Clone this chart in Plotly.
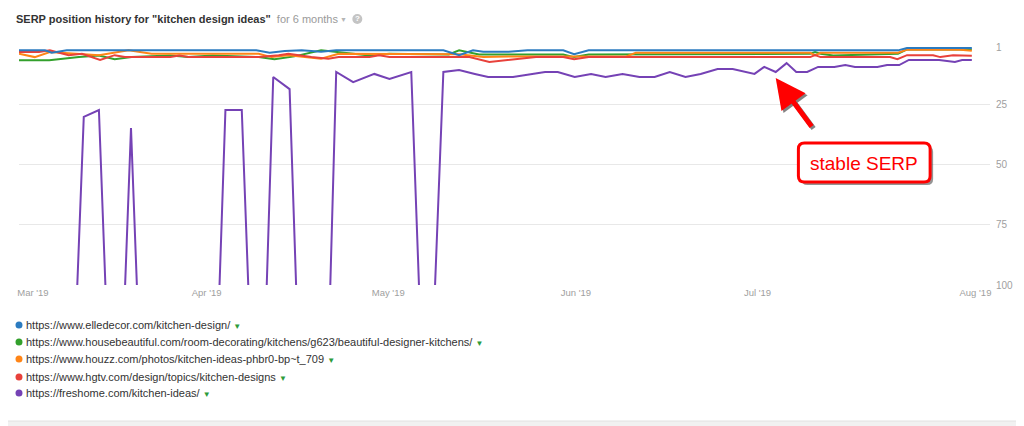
import pandas as pd
import plotly.graph_objects as go

BASE = pd.Timestamp("2019-03-01")

# ---- data (days since 1 Mar 2019, SERP position) ----
elle_days = [0, 4.3, 5.4, 7.9, 39.2, 41.4, 43.9, 46.7, 49.9, 52.4, 70.1, 72.7, 75.0, 76.7, 80.9,
             84, 89.9, 91.7, 94.1, 145.2, 146.7, 157.4]
elle_pos = [2.4, 2.4, 3.4, 2.4, 2.4, 3.4, 2.7, 2.4, 3.0, 2.4, 2.4, 4.4, 2.4, 3.0, 3.0,
            2.4, 2.4, 4.0, 2.4, 2.4, 1.4, 1.4]

hb_days = [0, 5.0, 9.9, 13.2, 15.8, 18.6, 25, 28, 32, 39.6, 42.2, 45.5, 49.9, 52.8, 56,
           57.9, 61.2, 71.0, 72.7, 76.0, 89.9, 91.7, 94.1, 130.7, 131.5, 132.4, 134.5, 145.2, 146.7, 157.4]
hb_pos = [6.5, 6.5, 5.2, 4.5, 6.1, 5.2, 4.5, 5.2, 4.5, 5.2, 6.1, 4.9, 2.4, 3.1, 3.8,
          4.5, 3.8, 4.1, 2.4, 4.1, 4.1, 5.2, 4.1, 3.8, 3.1, 3.8, 4.5, 3.8, 2.0, 2.0]

houzz_days = [0, 2.6, 5.1, 8.7, 13.2, 18.1, 21.9, 39.6, 41.7, 44.5, 49.9, 52.8, 70.6, 72.7, 76.7,
              80.9, 100.2, 101.9, 130.7, 131.5, 132.4, 145.2, 146.7, 155.5, 157.4]
houzz_pos = [3.8, 5.2, 3.1, 3.8, 4.4, 2.4, 3.8, 3.8, 5.2, 4.4, 5.9, 3.8, 3.8, 4.0, 5.2,
             5.0, 5.0, 3.4, 3.4, 4.5, 3.4, 3.4, 2.1, 2.1, 2.6]

hgtv_days = [0, 3.3, 5.1, 8.2, 10.4, 13.4, 15.8, 17.5, 25, 26.5, 28, 39.6, 42.9, 44.5, 48.3,
             51.1, 52.8, 57.9, 59.5, 61.2, 74.4, 77.7, 85.4, 89.9, 91.7, 94.1, 130.7, 131.5, 132.4,
             143.9, 145.1, 146.7, 151.0, 152.2, 154.3, 157.4]
hgtv_pos = [3.1, 3.1, 2.4, 4.4, 3.8, 6.4, 4.4, 5.2, 5.2, 4.5, 5.2, 5.2, 4.4, 3.8, 5.2,
            5.9, 5.2, 5.2, 4.4, 5.2, 5.2, 7.2, 5.2, 5.2, 6.1, 5.2, 5.2, 4.4, 5.2,
            5.2, 6.1, 4.4, 4.4, 5.2, 4.4, 4.6]

# 102 = not ranked in the top 100 (drawn below the chart floor)
fresh_days = [0, 9.6, 10.7, 13.2, 14.3, 17.5, 18.5, 19.5, 33.1, 34.1, 36.8, 37.9, 40.9, 42.0, 44.7,
              45.8, 51.4, 52.4, 55.2, 58.7, 61.2, 64.8, 66.1, 68.7, 70.1, 72.7, 75.3, 77.5, 81.6, 86.9,
              89.0, 91.8, 94.5, 96.9, 99.7, 102.5, 105.0, 107.5, 110.1, 112.6, 115.4, 117.9, 121.5, 123.1, 125.0,
              126.8, 128.4, 130.2, 132.0, 134.7, 136.5, 138.1, 141.8, 143.4, 145.4, 147.0, 152.0, 154.6, 155.8, 157.4]
fresh_pos = [102, 102, 30.1, 27.2, 102, 102, 34.7, 102, 102, 27.2, 27.2, 102, 102, 13.5, 18.5,
             102, 102, 11.4, 15.6, 12.2, 14.3, 11.4, 102, 102, 11.4, 10.6, 12.2, 13.5, 13.5, 11.4,
             11.4, 13.5, 12.2, 13.5, 12.2, 13.5, 13.5, 11.4, 13.5, 12.2, 10.2, 10.2, 12.2, 9.3, 11.4,
             7.7, 11.4, 11.4, 9.3, 9.3, 8.5, 9.3, 9.3, 8.5, 8.5, 6.4, 6.4, 7.2, 6.4, 6.4]

urls = [
    "https://www.elledecor.com/kitchen-design/",
    "https://www.housebeautiful.com/room-decorating/kitchens/g623/beautiful-designer-kitchens/",
    "https://www.houzz.com/photos/kitchen-ideas-phbr0-bp~t_709",
    "https://www.hgtv.com/design/topics/kitchen-designs",
    "https://freshome.com/kitchen-ideas/",
]
colors = ["#2b7bc0", "#33a02c", "#ff8517", "#e8413b", "#7542b5"]

tick_days = [2.3, 31, 61, 92, 122, 158]
tick_labels = ["Mar '19", "Apr '19", "May '19", "Jun '19", "Jul '19", "Aug '19"]
y_ticks = [1, 25, 50, 75, 100]


def to_dates(days):
    return [(BASE + pd.Timedelta(days=d)).strftime("%Y-%m-%d %H:%M:%S") for d in days]


series = [
    (elle_days, elle_pos),
    (hb_days, hb_pos),
    (houzz_days, houzz_pos),
    (hgtv_days, hgtv_pos),
    (fresh_days, fresh_pos),
]

fig = go.Figure()
order = [4, 1, 2, 3, 0]
for i in order:
    d, p = series[i]
    fig.add_trace(go.Scatter(x=to_dates(d), y=p, mode="lines", name=urls[i],
                             line=dict(color=colors[i], width=2), showlegend=False,
                             hoverinfo="skip"))

FONT = "Arial, Liberation Sans, sans-serif"
OFF = 8  # page body margin in the browser
W, H = 1024 - OFF, 426 - OFF
PX0, PX1, PY0, PY1 = 17, 990, 47, 285  # plot area in screen pixels
L, R, T, B = PX0 - OFF, 1024 - PX1, PY0 - OFF, 426 - PY1
pw, ph = PX1 - PX0, PY1 - PY0


def px(xs):
    return (xs - PX0) / pw


def py(ys):
    return (PY1 - ys) / ph


annotations = []
shapes = []

# card background (bottom edge of the card)
shapes.append(dict(type="rect", xref="paper", yref="paper", x0=px(-20), x1=px(1040), y0=py(421), y1=py(-10),
                   fillcolor="white", line=dict(color="#e2e2e2", width=1), layer="below"))

# title
annotations.append(dict(
    xref="paper", yref="paper", x=px(12), y=py(19), xanchor="left", yanchor="middle", showarrow=False,
    text="<b>SERP position history for \"kitchen design ideas\"</b> "
         "<span style='color:#9a9a9a'> for 6 months</span>",
    font=dict(family=FONT, size=11, color="#333333")))
annotations.append(dict(
    xref="paper", yref="paper", x=px(342), y=py(20), xanchor="center", yanchor="middle", showarrow=False,
    text="▼", font=dict(family=FONT, size=7, color="#b5b5b5")))
shapes.append(dict(type="circle", xref="paper", yref="paper",
                   x0=px(351), x1=px(361), y0=py(24), y1=py(14),
                   fillcolor="#c4c4c4", line=dict(width=0)))
annotations.append(dict(
    xref="paper", yref="paper", x=px(356), y=py(19), xanchor="center", yanchor="middle", showarrow=False,
    text="<b>?</b>", font=dict(family=FONT, size=8, color="white")))

# legend rows: coloured dot, url, green caret
leg_y = [325, 342, 359, 377, 393]
for i in range(5):
    shapes.append(dict(type="circle", xref="paper", yref="paper",
                       x0=px(13.5), x1=px(20.5), y0=py(leg_y[i] + 3.5), y1=py(leg_y[i] - 3.5),
                       fillcolor=colors[i], line=dict(width=0)))
    annotations.append(dict(
        xref="paper", yref="paper", x=px(22), y=py(leg_y[i]), xanchor="left", yanchor="middle",
        showarrow=False,
        text=f"{urls[i]} <span style='color:#2d9b3a;font-size:8px'>▼</span>",
        font=dict(family=FONT, size=11, color="#333333")))

# "stable SERP" callout box (rounded) with shadow
bx0, bx1, by0, by1, r = 798, 930, 143, 182, 6


def rounded(x0, x1, y0, y1, rad, dx=0, dy=0):
    x0, x1, y0, y1 = x0 + dx, x1 + dx, y0 + dy, y1 + dy
    rx, ry = rad / pw, rad / ph
    X0, X1, Y0, Y1 = px(x0), px(x1), py(y1), py(y0)
    return (f"M {X0+rx},{Y1} L {X1-rx},{Y1} Q {X1},{Y1} {X1},{Y1-ry} "
            f"L {X1},{Y0+ry} Q {X1},{Y0} {X1-rx},{Y0} L {X0+rx},{Y0} "
            f"Q {X0},{Y0} {X0},{Y0+ry} L {X0},{Y1-ry} Q {X0},{Y1} {X0+rx},{Y1} Z")


shapes.append(dict(type="path", xref="paper", yref="paper", path=rounded(bx0, bx1, by0, by1, r, 3, 3),
                   fillcolor="rgba(60,60,60,0.55)", line=dict(width=0)))
shapes.append(dict(type="path", xref="paper", yref="paper", path=rounded(bx0, bx1, by0, by1, r),
                   fillcolor="white", line=dict(color="#ff0000", width=3)))
annotations.append(dict(
    xref="paper", yref="paper", x=px((bx0 + bx1) / 2), y=py((by0 + by1) / 2 + 1),
    xanchor="center", yanchor="middle", showarrow=False,
    text="stable SERP", font=dict(family=FONT, size=19, color="#ff0000")))

# arrow (with shadow)
head_day, head_pos = 125.0, 13.9
for dx, dy, col in [(2, 2, "rgba(50,50,50,0.6)"), (0, 0, "#ff0000")]:
    annotations.append(dict(
        x=(BASE + pd.Timedelta(days=head_day + dx * 160.4 / pw)).strftime("%Y-%m-%d %H:%M:%S"),
        y=head_pos + dy * 99 / ph, xref="x", yref="y",
        ax=37, ay=50, axref="pixel", ayref="pixel", text="", showarrow=True,
        arrowhead=2, arrowsize=1.2, arrowwidth=5, arrowcolor=col))

fig.update_layout(
    width=W, height=H,
    margin=dict(l=L, r=R, t=T, b=B, pad=0),
    paper_bgcolor="#f1f1f1", plot_bgcolor="white",
    font=dict(family=FONT),
    showlegend=False,
    xaxis=dict(type="date", range=to_dates([0, 160.4]), tickvals=to_dates(tick_days), ticktext=tick_labels,
               showgrid=False, zeroline=False, showline=False, ticks="",
               tickfont=dict(family=FONT, size=9.5, color="#a0a0a0")),
    yaxis=dict(range=[100, 1], tickvals=y_ticks, side="right", showgrid=True, gridcolor="#e8e8e8",
               gridwidth=1, zeroline=False, showline=False, ticks="",
               tickfont=dict(family=FONT, size=10, color="#a0a0a0"), ticklabelstandoff=5),
    annotations=annotations, shapes=shapes,
)

fig.write_html("out.html")
